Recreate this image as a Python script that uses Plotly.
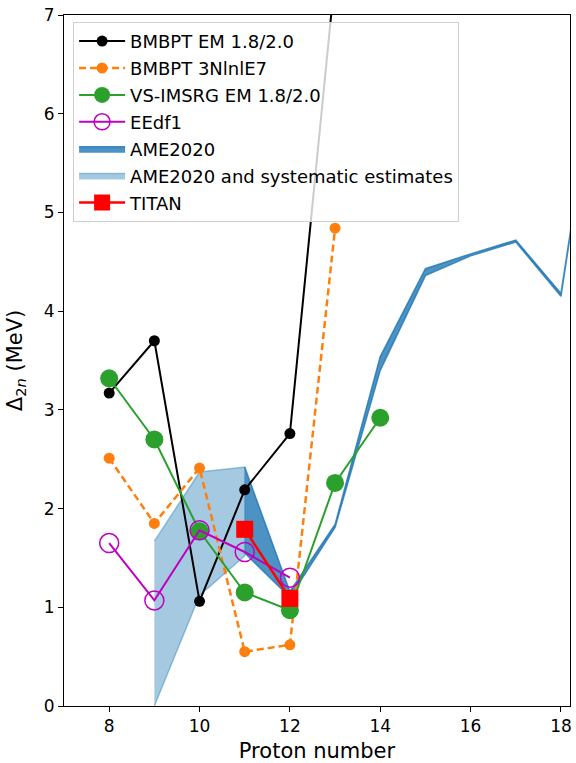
import plotly.graph_objects as go

# Data
z_bmbpt_em = [8, 9, 10, 11, 12, 13]
d_bmbpt_em = [3.17, 3.70, 1.06, 2.19, 2.76, 7.40]

z_bmbpt_3n = [8, 9, 10, 11, 12, 13]
d_bmbpt_3n = [2.51, 1.85, 2.41, 0.55, 0.62, 4.84]

z_imsrg = [8, 9, 10, 11, 12, 13, 14]
d_imsrg = [3.32, 2.70, 1.77, 1.15, 0.97, 2.26, 2.92]

z_eedf1 = [8, 9, 10, 11, 12]
d_eedf1 = [1.65, 1.07, 1.78, 1.56, 1.30]

z_titan = [11, 12]
d_titan = [1.79, 1.09]

z_ame = [11, 12, 13, 14, 15, 16, 17, 18, 19]
ame_low = [1.55, 1.10, 1.81, 3.40, 4.36, 4.56, 4.70, 4.15, 7.15]
ame_high = [2.42, 1.16, 1.84, 3.54, 4.43, 4.58, 4.72, 4.18, 7.18]

z_sys = [9, 10, 11]
sys_low = [0.0, 1.12, 1.52]
sys_high = [1.67, 2.37, 2.42]

x_ticks = [8, 10, 12, 14, 16, 18]
y_ticks = [0, 1, 2, 3, 4, 5, 6, 7]

fig = go.Figure()

# bands
fig.add_trace(go.Scatter(
    x=z_sys + z_sys[::-1], y=sys_high + sys_low[::-1],
    fill="toself", fillcolor="rgba(31,119,180,0.4)",
    line=dict(color="rgba(31,119,180,0.4)", width=1.5),
    mode="lines", name="AME2020 and systematic estimates",
    legendrank=6, legendgroup="g6",
))
fig.add_trace(go.Scatter(
    x=z_ame + z_ame[::-1], y=ame_high + ame_low[::-1],
    fill="toself", fillcolor="rgba(31,119,180,0.8)",
    line=dict(color="rgba(31,119,180,0.8)", width=1.5),
    mode="lines", name="AME2020",
    legendrank=5, legendgroup="g5",
))

fig.add_trace(go.Scatter(
    x=z_bmbpt_em, y=d_bmbpt_em, mode="lines+markers", name="BMBPT EM 1.8/2.0",
    line=dict(color="black", width=2),
    marker=dict(symbol="circle", size=11, color="black", line=dict(width=0)),
    legendrank=1, legendgroup="g1",
))
fig.add_trace(go.Scatter(
    x=z_bmbpt_3n, y=d_bmbpt_3n, mode="lines+markers", name="BMBPT 3NlnlE7",
    line=dict(color="#ff7f0e", width=2.5, dash="7px,4px"),
    marker=dict(symbol="circle", size=11, color="#ff7f0e", line=dict(width=0)),
    legendrank=2, legendgroup="g2",
))
fig.add_trace(go.Scatter(
    x=z_imsrg, y=d_imsrg, mode="lines+markers", name="VS-IMSRG EM 1.8/2.0",
    line=dict(color="#2ca02c", width=2),
    marker=dict(symbol="circle", size=18, color="#2ca02c", line=dict(width=0)),
    legendrank=3, legendgroup="g3",
))
fig.add_trace(go.Scatter(
    x=z_eedf1, y=d_eedf1, mode="lines+markers", name="EEdf1",
    line=dict(color="#bf00bf", width=2),
    marker=dict(symbol="circle-open", size=19, color="#bf00bf", line=dict(width=1.5, color="#bf00bf")),
    legendrank=4, legendgroup="g4",
))
fig.add_trace(go.Scatter(
    x=z_titan, y=d_titan, mode="lines+markers", name="TITAN",
    line=dict(color="red", width=2.5),
    marker=dict(symbol="square", size=17, color="red", line=dict(width=0)),
    legendrank=7, legendgroup="g7",
))

axis_common = dict(
    showline=True, linecolor="black", linewidth=1, mirror=True,
    ticks="outside", ticklen=5, tickwidth=1, tickcolor="black",
    showgrid=False, zeroline=False, automargin=False,
    ticklabeloverflow="allow",
    tickfont=dict(size=17, color="black", family="DejaVu Sans"),
)

fig.update_xaxes(range=[7, 18.2], tickvals=x_ticks,
                 title=dict(text="Proton number", font=dict(size=21, color="black", family="DejaVu Sans")),
                 **axis_common)
fig.update_yaxes(range=[0, 7], tickvals=y_ticks,
                 title=dict(text="Δ<sub>2<i>n</i></sub> (MeV)", font=dict(size=21, color="black", family="DejaVu Sans")),
                 **axis_common)

fig.update_layout(
    width=576, height=763,
    margin=dict(l=64, r=6, t=15, b=57),
    plot_bgcolor="white", paper_bgcolor="white",
    font=dict(family="DejaVu Sans", color="black"),
    legend=dict(
        x=0.018, y=0.990, xanchor="left", yanchor="top",
        bgcolor="rgba(255,255,255,0.8)", bordercolor="#d0d0d0", borderwidth=1,
        font=dict(size=18, color="black", family="DejaVu Sans"),
        tracegroupgap=0.5, itemwidth=46,
    ),
)

fig.write_html(
    "out.html",
    config={"displayModeBar": False},
    post_script="document.body.style.margin='0';document.body.style.overflow='hidden';",
)
